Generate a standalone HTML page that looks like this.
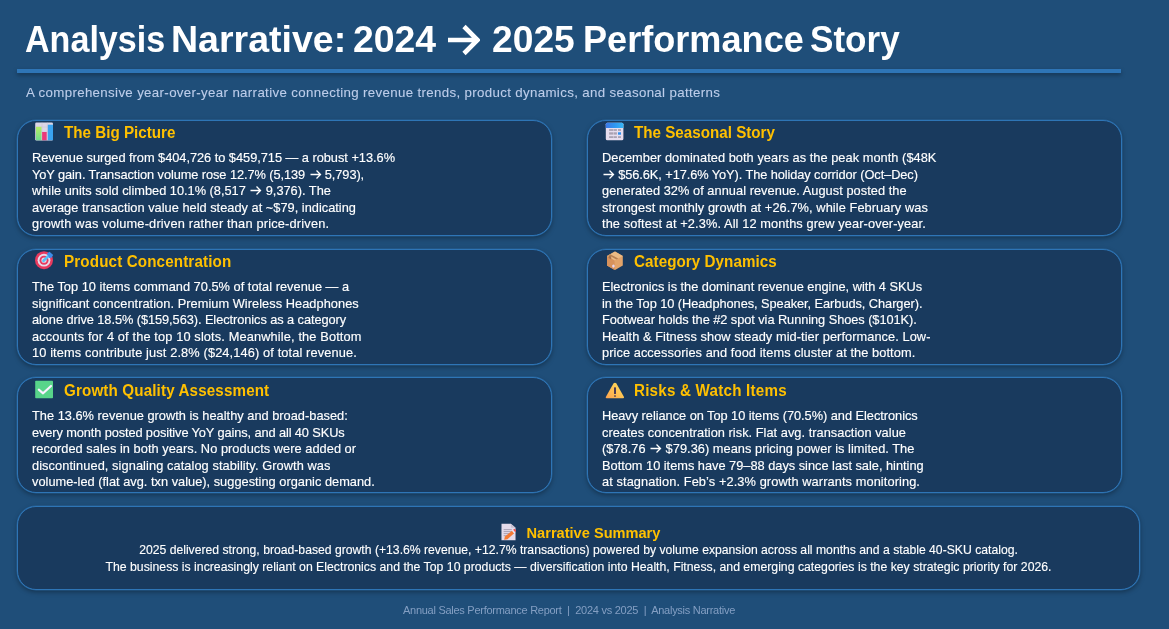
<!DOCTYPE html>
<html><head><meta charset="utf-8">
<style>
*{margin:0;padding:0;box-sizing:border-box}
html,body{width:1169px;height:629px;overflow:hidden;background:#1F4E79;font-family:"Liberation Sans",sans-serif;position:relative}
.abs{position:absolute;white-space:nowrap;will-change:transform}
.tar{display:inline-block;width:35.5px;height:10px;position:relative}
.tar svg{position:absolute;left:-2px;top:-20.5px;width:36px;height:36px}
.ar{display:inline-block;width:12.8px;height:1px;position:relative;letter-spacing:0}
.ar svg{position:absolute;left:0;top:-12px;width:13px;height:13px}
#title{position:absolute;left:0;top:0;width:1169px;height:66px;will-change:transform}
.tw{position:absolute;top:17px;font-size:37.7px;font-weight:bold;color:#fff;line-height:44px;white-space:nowrap;transform-origin:0 0}
.tarr{position:absolute;left:443.7px;top:21.5px;width:36px;height:36px}
#rule{left:17px;top:69px;width:1104px;height:4px;background:#2E75B6;box-shadow:0 2px 4px rgba(0,0,0,.35)}
#sub{left:26.4px;top:84px;font-size:13.3px;letter-spacing:0.34px;color:#BDCDEA;line-height:18px;-webkit-text-stroke:0.1px #BDCDEA}
.card{position:absolute;border:1.5px solid #2E75B6;border-radius:19px;background:#193A5E;box-shadow:0 0 0 0.5px rgba(46,117,182,.6),0 2px 5px rgba(0,0,0,.35)}
.card .h{will-change:transform;position:absolute;left:46px;top:1.5px;font-size:15.2px;font-weight:bold;color:#FFC000;line-height:20px;white-space:nowrap;transform:scaleY(1.04);transform-origin:0 75%}
.card .b{will-change:transform;position:absolute;left:14.2px;top:29px;font-size:12.8px;color:#fff;line-height:16.5px;white-space:nowrap;-webkit-text-stroke:0.15px #fff}
.card .ic{position:absolute;left:16px;top:0;width:22px;height:22px}
#sum{left:17px;top:506px;width:1123px;height:84px}
#sumh{will-change:transform;position:absolute;left:2.2px;width:100%;top:16px;text-align:center;font-size:14.6px;font-weight:bold;color:#FFC000;line-height:20px;white-space:nowrap}
.sic{position:relative;display:inline-block;vertical-align:-2.5px;width:15px;height:17.5px;margin-right:11px}
#sumb{will-change:transform;position:absolute;left:0;width:100%;top:35.2px;text-align:center;font-size:12.2px;color:#fff;line-height:17px;white-space:nowrap;-webkit-text-stroke:0.12px #fff}
#foot{left:0;width:1138px;top:603.2px;text-align:center;font-size:11px;letter-spacing:-0.27px;color:#849FC3;line-height:14px;white-space:pre}

</style></head><body>
<div id="title"><span class="tw" style="left:25.37px;transform:scaleX(0.9043)">Analysis</span><span class="tw" style="left:170.86px;transform:scaleX(0.9958)">Narrative:</span><span class="tw" style="left:353.39px;transform:scaleX(0.9918)">2024</span><span class="tw" style="left:492.38px;transform:scaleX(0.9874)">2025</span><span class="tw" style="left:582.75px;transform:scaleX(0.9583)">Performance</span><span class="tw" style="left:810.39px;transform:scaleX(0.9318)">Story</span><svg class="tarr" viewBox="0 0 36 36"><path d="M4 18H33.5M20 4.5L33.5 18L20 31.5" stroke="#fff" stroke-width="4.6" fill="none"/></svg></div>
<div id="rule" class="abs"></div>
<div id="sub" class="abs">A comprehensive year-over-year narrative connecting revenue trends, product dynamics, and seasonal patterns</div>
<div class="card" id="c1" style="left:17px;top:120px;width:535px;height:116px">
<svg class="ic" viewBox="0 0 22 22"><defs><linearGradient id="g1" x1="0" y1="0" x2="0" y2="1"><stop offset="0" stop-color="#B8EE66"/><stop offset="1" stop-color="#6FDE8C"/></linearGradient></defs><rect x="1.2" y="1.6" width="17.8" height="17.8" rx="1.2" fill="#DDD6E6"/><path d="M1.2 6H19M1.2 11H19M8 1.6V19.4M13.3 1.6V19.4" stroke="#CBC3D4" stroke-width="0.5"/><rect x="2" y="5.8" width="5.5" height="13.4" fill="url(#g1)"/><rect x="8.1" y="11" width="4.6" height="8.2" fill="#EA3A7A"/><rect x="13.8" y="3.7" width="5.2" height="15.5" fill="#3AA3F0"/></svg>
<div class="h" style="letter-spacing:0px;top:2px">The Big Picture</div>
<div class="b" style="top:29px"><span id="c1l0" style="letter-spacing:-0.0281px">Revenue surged from $404,726 to $459,715 — a robust +13.6%</span><br><span id="c1l1" style="letter-spacing:-0.0800px">YoY gain. Transaction volume rose 12.7% (5,139 <span class="ar"><svg viewBox="0 0 13 13"><path d="M1.5 8.5H11.5M7.5 4.5L11.5 8.5L7.5 12.5" stroke="#fff" stroke-width="1.3" fill="none"/></svg></span> 5,793),</span><br><span id="c1l2" style="letter-spacing:-0.0080px">while units sold climbed 10.1% (8,517 <span class="ar"><svg viewBox="0 0 13 13"><path d="M1.5 8.5H11.5M7.5 4.5L11.5 8.5L7.5 12.5" stroke="#fff" stroke-width="1.3" fill="none"/></svg></span> 9,376). The</span><br><span id="c1l3" style="letter-spacing:0.0107px">average transaction value held steady at ~$79, indicating</span><br><span id="c1l4" style="letter-spacing:0.1837px">growth was volume-driven rather than price-driven.</span></div>
</div>
<div class="card" id="c2" style="left:17px;top:249px;width:535px;height:116px">
<svg class="ic" viewBox="0 0 22 22"><circle cx="10" cy="10.2" r="9" fill="#E83A5E"/><circle cx="10" cy="10.2" r="6.4" fill="#E6DCEB"/><circle cx="10" cy="10.2" r="4.5" fill="#E83A5E"/><circle cx="10" cy="10.2" r="2.6" fill="#E3D9E8"/><circle cx="10" cy="10.2" r="1" fill="#8D8494"/><path d="M9.5 10.8 L15.5 4.8" stroke="#55C0F5" stroke-width="2.6" stroke-linecap="round"/><path d="M13 3.5 L15.5 1.8 L19.2 5 L17.5 7.8 L15.2 8 Z" fill="#3D8EEA"/></svg>
<div class="h" style="letter-spacing:0.135px;top:2px">Product Concentration</div>
<div class="b" style="top:29px"><span id="c2l0" style="letter-spacing:0.0160px">The Top 10 items command 70.5% of total revenue — a</span><br><span id="c2l1" style="letter-spacing:0.0453px">significant concentration. Premium Wireless Headphones</span><br><span id="c2l2" style="letter-spacing:-0.0704px">alone drive 18.5% ($159,563). Electronics as a category</span><br><span id="c2l3" style="letter-spacing:0.1286px">accounts for 4 of the top 10 slots. Meanwhile, the Bottom</span><br><span id="c2l4" style="letter-spacing:0.1214px">10 items contribute just 2.8% ($24,146) of total revenue.</span></div>
</div>
<div class="card" id="c3" style="left:17px;top:377px;width:535px;height:116px">
<svg class="ic" viewBox="0 0 22 22"><rect x="1.2" y="2.8" width="17.8" height="17.4" rx="0.8" fill="#58D48A"/><path d="M4.8 11.6 L9.1 15.3 L17 8" stroke="#FAF0FF" stroke-width="2.2" fill="none" stroke-linecap="round" stroke-linejoin="round"/></svg>
<div class="h" style="letter-spacing:0.133px;top:3px">Growth Quality Assessment</div>
<div class="b" style="top:30px"><span id="c3l0" style="letter-spacing:0.0118px">The 13.6% revenue growth is healthy and broad-based:</span><br><span id="c3l1" style="letter-spacing:-0.1094px">every month posted positive YoY gains, and all 40 SKUs</span><br><span id="c3l2" style="letter-spacing:0.0333px">recorded sales in both years. No products were added or</span><br><span id="c3l3" style="letter-spacing:0.0808px">discontinued, signaling catalog stability. Growth was</span><br><span id="c3l4" style="letter-spacing:0.0102px">volume-led (flat avg. txn value), suggesting organic demand.</span></div>
</div>
<div class="card" id="c4" style="left:587px;top:120px;width:535px;height:116px">
<svg class="ic" viewBox="0 0 22 22"><defs><linearGradient id="g4" x1="0" y1="0" x2="1" y2="0"><stop offset="0" stop-color="#3C78E6"/><stop offset="0.5" stop-color="#2E96F2"/><stop offset="1" stop-color="#38B6F6"/></linearGradient></defs><rect x="1.8" y="1.8" width="17.6" height="17.4" rx="1.5" fill="#E6DDEE"/><path d="M1.8 7 V3.3 Q1.8 1.8 3.3 1.8 H17.9 Q19.4 1.8 19.4 3.3 V7 Z" fill="url(#g4)"/><g fill="#A9A1B2"><rect x="5.1" y="8.1" width="4" height="1.8"/><rect x="9.5" y="8.1" width="3.4" height="1.8"/><rect x="14" y="8.1" width="3" height="1.8"/><rect x="5.1" y="11.3" width="4" height="2.3"/><rect x="9.5" y="11.3" width="3.4" height="2.3"/><rect x="5.1" y="15.2" width="4" height="1.8"/><rect x="9.5" y="15.2" width="3.4" height="1.8"/><rect x="14" y="15.2" width="3" height="1.8"/></g><rect x="14" y="11.3" width="3" height="2.4" fill="#2D8FEE"/></svg>
<div class="h" style="letter-spacing:0px;top:2px">The Seasonal Story</div>
<div class="b" style="top:29px"><span id="c4l0" style="letter-spacing:0.0423px">December dominated both years as the peak month ($48K</span><br><span id="c4l1" style="letter-spacing:-0.0846px"><span class="ar"><svg viewBox="0 0 13 13"><path d="M1.5 8.5H11.5M7.5 4.5L11.5 8.5L7.5 12.5" stroke="#fff" stroke-width="1.3" fill="none"/></svg></span> $56.6K, +17.6% YoY). The holiday corridor (Oct–Dec)</span><br><span id="c4l2" style="letter-spacing:0.0449px">generated 32% of annual revenue. August posted the</span><br><span id="c4l3" style="letter-spacing:0.0755px">strongest monthly growth at +26.7%, while February was</span><br><span id="c4l4" style="letter-spacing:0.0982px">the softest at +2.3%. All 12 months grew year-over-year.</span></div>
</div>
<div class="card" id="c5" style="left:587px;top:249px;width:535px;height:116px">
<svg class="ic" viewBox="0 0 22 22"><path d="M11 1.6 L18.8 6 V15.6 L11 20 L3 15.6 V6 Z" fill="#E3A46A"/><path d="M11 1.6 L18.8 6 L10.6 10.4 L3 6 Z" fill="#EDBB84"/><path d="M3 6 L10.6 10.4 V20 L3 15.6 Z" fill="#D7925C"/><path d="M6.2 4.2 L14.3 8.6 L12.3 9.6 L4.6 5.1 Z" fill="#B98051"/><path d="M4.6 5.1 L7.2 6.6 V9.6 L4.6 8.1 Z" fill="#A8724A"/><ellipse cx="9.4" cy="16.1" rx="1.3" ry="1.6" fill="#E6D6F0"/></svg>
<div class="h" style="letter-spacing:0.06px;top:2px">Category Dynamics</div>
<div class="b" style="top:29px"><span id="c5l0" style="letter-spacing:-0.0259px">Electronics is the dominant revenue engine, with 4 SKUs</span><br><span id="c5l1" style="letter-spacing:-0.0566px">in the Top 10 (Headphones, Speaker, Earbuds, Charger).</span><br><span id="c5l2" style="letter-spacing:-0.0615px">Footwear holds the #2 spot via Running Shoes ($101K).</span><br><span id="c5l3" style="letter-spacing:0.0630px">Health &amp; Fitness show steady mid-tier performance. Low-</span><br><span id="c5l4" style="letter-spacing:0.0704px">price accessories and food items cluster at the bottom.</span></div>
</div>
<div class="card" id="c6" style="left:587px;top:377px;width:535px;height:116px">
<svg class="ic" viewBox="0 0 22 22"><defs><linearGradient id="g6" x1="1" y1="0" x2="0" y2="1"><stop offset="0" stop-color="#FFE35A"/><stop offset="1" stop-color="#FDA24E"/></linearGradient></defs><path d="M9.6 5.3 Q10.9 4 12.3 5.3 L20 19 Q20.3 20.2 19 20.2 H2.7 Q1.4 20.2 1.8 19 Z" fill="url(#g6)"/><rect x="10" y="9.2" width="2" height="6.8" rx="0.6" fill="#4B3B55"/><rect x="10.1" y="17.2" width="1.8" height="1.6" rx="0.6" fill="#4B3B55"/></svg>
<div class="h" style="letter-spacing:0.21px;top:3px">Risks &amp; Watch Items</div>
<div class="b" style="top:30px"><span id="c6l0" style="letter-spacing:-0.0377px">Heavy reliance on Top 10 items (70.5%) and Electronics</span><br><span id="c6l1" style="letter-spacing:0.0296px">creates concentration risk. Flat avg. transaction value</span><br><span id="c6l2" style="letter-spacing:0.0346px">($78.76 <span class="ar"><svg viewBox="0 0 13 13"><path d="M1.5 8.5H11.5M7.5 4.5L11.5 8.5L7.5 12.5" stroke="#fff" stroke-width="1.3" fill="none"/></svg></span> $79.36) means pricing power is limited. The</span><br><span id="c6l3" style="letter-spacing:-0.0109px">Bottom 10 items have 79–88 days since last sale, hinting</span><br><span id="c6l4" style="letter-spacing:0.0906px">at stagnation. Feb’s +2.3% growth warrants monitoring.</span></div>
</div>
<div id="sum" class="card">
<div id="sumh"><svg class="sic" viewBox="0 0 16 18" preserveAspectRatio="none"><path d="M0.5 0.7 H10.5 L15.5 5 V17.7 H0.5 Z" fill="#E4DBEC"/><path d="M10.5 0.7 V5 H15.5 Z" fill="#C8C0D0"/><g stroke="#A8A0B2" stroke-width="1"><line x1="2.8" y1="6.8" x2="11.5" y2="6.8"/><line x1="2.8" y1="8.8" x2="11.5" y2="8.8"/><line x1="2.8" y1="10.9" x2="9" y2="10.9"/><line x1="2.8" y1="13" x2="7" y2="13"/></g><path d="M3.3 17.3 L4.2 14 L11.8 8 L14 10.6 L6.8 16.6 Z" fill="#F57A35"/><path d="M11.8 8 L13 7 L15.2 9.6 L14 10.6 Z" fill="#F1E8F6"/><path d="M13 7 L14.2 6 Q15.8 6.3 16 8 L15.2 9.6 Z" fill="#F2504E"/></svg>Narrative Summary</div>
<div id="sumb">2025 delivered strong, broad-based growth (+13.6% revenue, +12.7% transactions) powered by volume expansion across all months and a stable 40-SKU catalog.<br><span style="font-size:12.28px">The business is increasingly reliant on Electronics and the Top 10 products — diversification into Health, Fitness, and emerging categories is the key strategic priority for 2026.</span></div>
</div>
<div id="foot" class="abs">Annual Sales Performance Report  |  2024 vs 2025  |  Analysis Narrative</div>
</body></html>
